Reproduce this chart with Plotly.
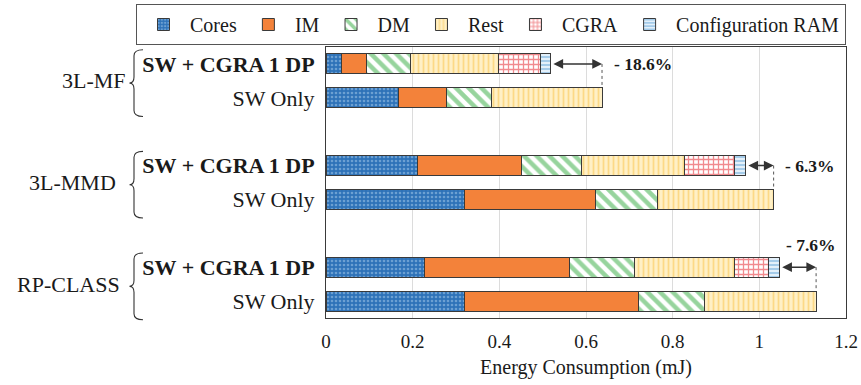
import plotly.graph_objects as go

# ---------------- data ----------------
groups = ["3L-MF", "3L-MMD", "RP-CLASS"]
configs = ["SW + CGRA 1 DP", "SW Only"]
components = ["Cores", "IM", "DM", "Rest", "CGRA", "Configuration RAM"]

cores_cgra = [0.036, 0.212, 0.227]
im_cgra = [0.058, 0.240, 0.334]
dm_cgra = [0.100, 0.138, 0.151]
rest_cgra = [0.204, 0.238, 0.231]
cgra_cgra = [0.096, 0.115, 0.077]
cfg_cgra = [0.025, 0.026, 0.027]

cores_sw = [0.167, 0.319, 0.319]
im_sw = [0.110, 0.302, 0.402]
dm_sw = [0.106, 0.143, 0.153]
rest_sw = [0.254, 0.269, 0.257]

reductions = ["- 18.6%", "- 6.3%", "- 7.6%"]
x_ticks = [0, 0.2, 0.4, 0.6, 0.8, 1, 1.2]
x_title = "Energy Consumption (mJ)"

# ---------------- layout helpers ----------------
FONT = "Liberation Serif"
TXT = "#1a1a1a"
ML, MR, MT, MB = 326, 15, 47, 67
W_PLOT = 861 - ML - MR
H_PLOT = 385 - MT - MB
label_right_px = [126, 116, 120]

pos_cgra = [3 * i for i in range(len(groups))]
pos_sw = [3 * i + 1 for i in range(len(groups))]
Y_RANGE = [7.5, -0.5]


def ypaper(d):
    return (Y_RANGE[0] - d) / (Y_RANGE[0] - Y_RANGE[1])


def xpaper(px):
    return (px - ML) / W_PLOT


ys = []
for a, b in zip(pos_cgra, pos_sw):
    ys += [a, b]


def inter(cg, sw):
    out = []
    for a, b in zip(cg, sw):
        out += [a, b]
    return out


none3 = [None] * 3
series = [
    ("Cores", inter(cores_cgra, cores_sw), dict(shape=".", bgcolor="#2E72B8", fgcolor="#A9CDEB", size=4, solidity=0.35)),
    ("IM", inter(im_cgra, im_sw), dict(shape="", bgcolor="#F3823A", fgcolor="#F3823A")),
    ("DM", inter(dm_cgra, dm_sw), dict(shape="\\", bgcolor="#FFFFFF", fgcolor="#2FAA3C", size=9, solidity=0.5)),
    ("Rest", inter(rest_cgra, rest_sw), dict(shape="|", bgcolor="#FFF0C6", fgcolor="#FAC246", size=5, solidity=0.35)),
    ("CGRA", inter(cgra_cgra, none3), dict(shape="+", bgcolor="#FFFFFF", fgcolor="#E3161E", size=5, solidity=0.45)),
    ("Configuration RAM", inter(cfg_cgra, none3), dict(shape="-", bgcolor="#E3F0FA", fgcolor="#2E86C8", size=4, solidity=0.35)),
]

colors_main = {"Cores": "#2E72B8", "IM": "#F3823A", "DM": "#FFFFFF", "Rest": "#FFF0C6",
               "CGRA": "#FFFFFF", "Configuration RAM": "#E3F0FA"}

fig = go.Figure()
for name, vals, pat in series:
    fig.add_trace(go.Bar(
        name=name, y=ys, x=vals, orientation="h", width=0.59,
        marker=dict(color=colors_main[name], pattern=pat,
                    line=dict(color="#3a3a3a", width=1)),
    ))

tot_cgra = [sum(v) for v in zip(cores_cgra, im_cgra, dm_cgra, rest_cgra, cgra_cgra, cfg_cgra)]
tot_sw = [sum(v) for v in zip(cores_sw, im_sw, dm_sw, rest_sw)]

annotations = []
shapes = []
for i, g in enumerate(groups):
    yc, ysw = pos_cgra[i], pos_sw[i]
    # double arrow
    annotations.append(dict(x=tot_sw[i], y=yc, ax=tot_cgra[i], ay=yc, xref="x", yref="y",
                            axref="x", ayref="y", text="", showarrow=True,
                            arrowhead=2, startarrowhead=2, arrowside="end+start",
                            arrowsize=1.3, startarrowsize=1.3, arrowwidth=1.5,
                            arrowcolor="#333333", standoff=0, startstandoff=1))
    shapes.append(dict(type="line", xref="x", yref="y", x0=tot_sw[i], x1=tot_sw[i],
                       y0=yc, y1=ysw - 0.3, line=dict(color="#555555", width=1, dash="dot")))
    if i < 2:
        annotations.append(dict(x=tot_sw[i] + 0.022, y=yc, xref="x", yref="y", text="<b>%s</b>" % reductions[i],
                                showarrow=False, xanchor="left", yanchor="middle",
                                font=dict(family=FONT, size=17.5, color=TXT)))
    else:
        annotations.append(dict(x=tot_sw[i] - 0.012, y=yc - 0.66, xref="x", yref="y", text="<b>%s</b>" % reductions[i],
                                showarrow=False, xanchor="center", yanchor="middle",
                                font=dict(family=FONT, size=17.5, color=TXT)))
    # group label
    annotations.append(dict(x=xpaper(label_right_px[i] + 2), y=(yc + ysw) / 2, xref="paper", yref="y", text=g,
                            showarrow=False, xanchor="right", yanchor="middle",
                            font=dict(family=FONT, size=22, color=TXT)))
    # brace
    top = ypaper(yc - 0.42)
    bot = ypaper(ysw + 0.55)
    tip = (top + bot) / 2
    xe = xpaper(143)
    xm = xpaper(134)
    xt = xpaper(129.5)
    r = 6 / H_PLOT
    path = (f"M {xe},{top} Q {xm},{top} {xm},{top - r} L {xm},{tip + r} "
            f"Q {xm},{tip} {xt},{tip} Q {xm},{tip} {xm},{tip - r} "
            f"L {xm},{bot + r} Q {xm},{bot} {xe},{bot}")
    shapes.append(dict(type="path", xref="paper", yref="paper", path=path,
                       line=dict(color="#333333", width=1.1)))

ticktext = []
for i in range(len(groups)):
    ticktext += ["<b>%s</b>" % configs[0], configs[1]]

fig.update_layout(
    width=861, height=385,
    margin=dict(l=ML, r=MR, t=MT, b=MB, autoexpand=False),
    barmode="stack",
    plot_bgcolor="white", paper_bgcolor="white",
    font=dict(family=FONT, size=20, color=TXT),
    showlegend=True,
    legend=dict(orientation="h", x=xpaper(136), xanchor="left", y=1 + (MT - 4) / H_PLOT, yanchor="top",
                bordercolor="#555555", borderwidth=1, font=dict(family=FONT, size=20, color=TXT),
                traceorder="normal", itemwidth=43),
    xaxis=dict(range=[0, 1.2], tickvals=x_ticks, showgrid=True, gridcolor="#DCDCDC", gridwidth=1,
               showline=True, mirror=True, linecolor="#3a3a3a", linewidth=1, zeroline=False,
               automargin=False,
               ticks="", tickfont=dict(family=FONT, size=19, color=TXT), ticklabelstandoff=6,
               title=dict(text=x_title, font=dict(family=FONT, size=20, color=TXT), standoff=9)),
    yaxis=dict(range=Y_RANGE, tickvals=ys, ticktext=ticktext, showgrid=False, automargin=False,
               showline=True, mirror=True, linecolor="#3a3a3a", linewidth=1, zeroline=False,
               ticks="", tickfont=dict(family=FONT, size=22, color=TXT), ticklabelstandoff=6),
    annotations=annotations,
    shapes=shapes,
)

fig.write_html("out.html", config={"displayModeBar": False},
               post_script="document.body.style.margin='0';document.body.style.overflow='hidden';")
